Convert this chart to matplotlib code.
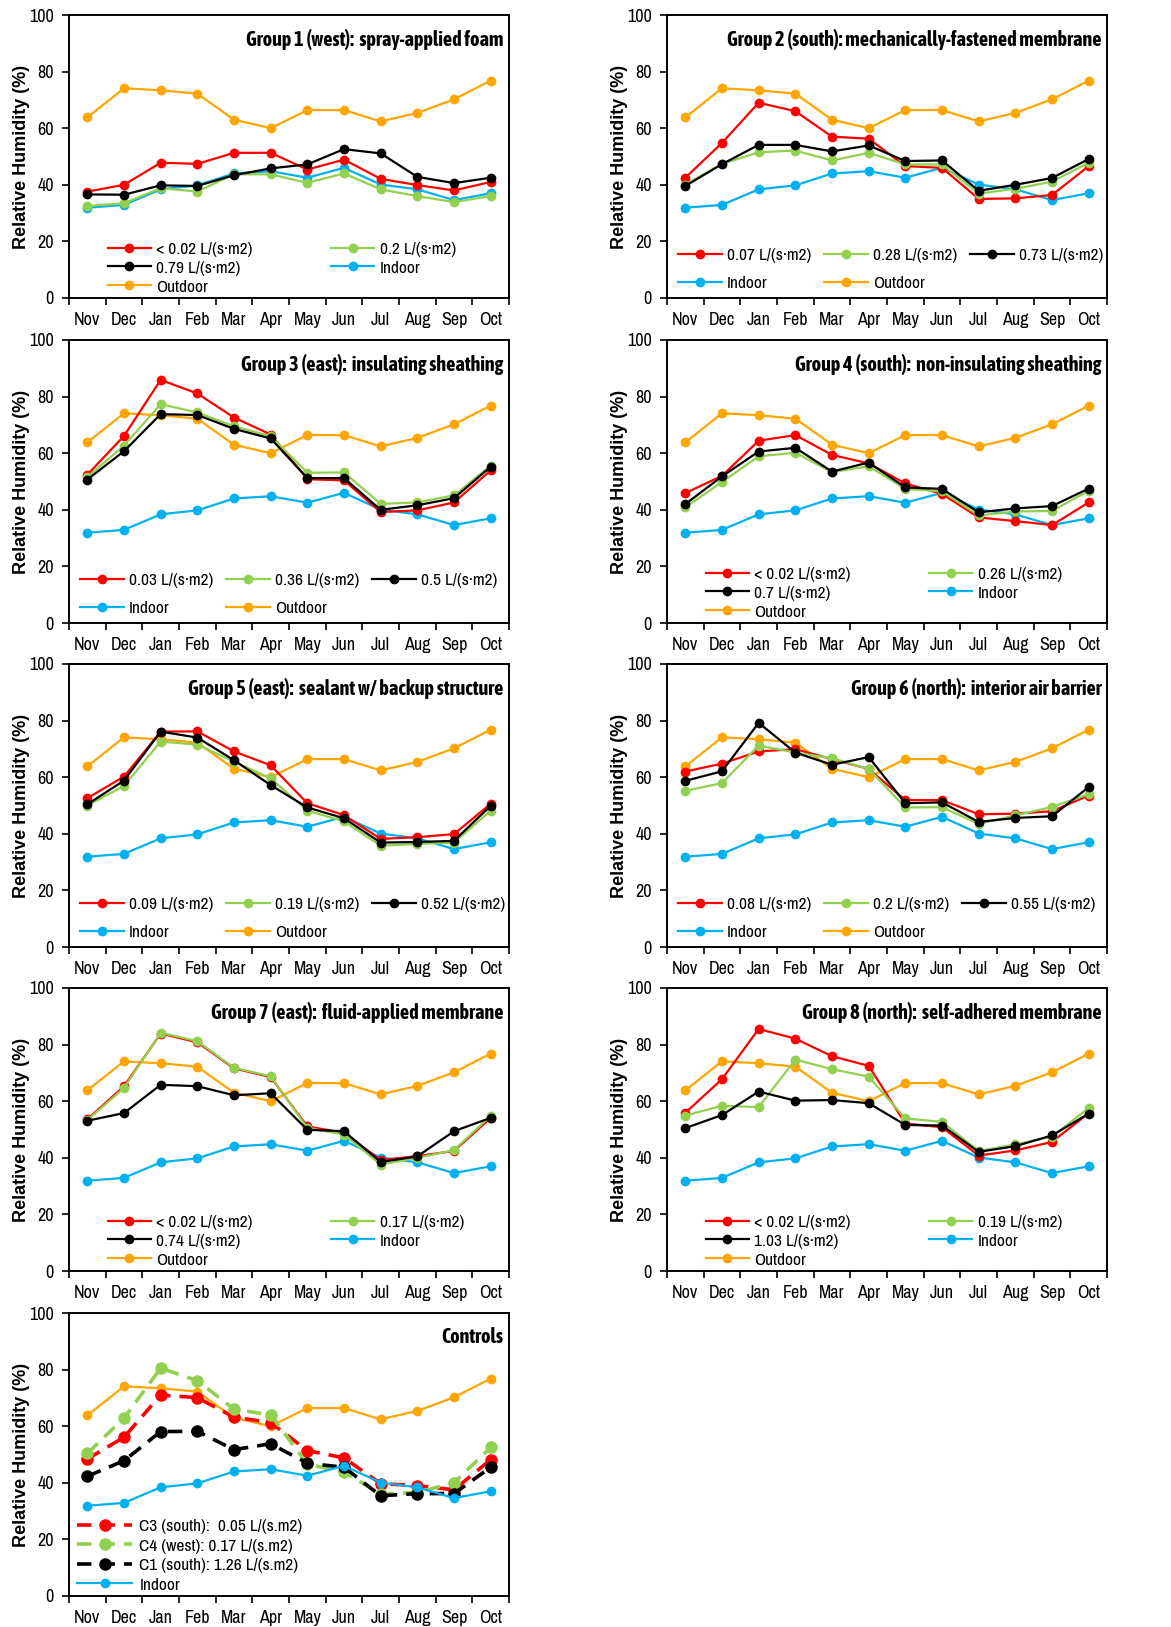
import matplotlib.pyplot as plt
from matplotlib.ticker import FixedLocator, NullFormatter

plt.rcParams['font.family'] = ['Archivo Narrow', 'Liberation Sans', 'DejaVu Sans']
TITLE_FONT = ['Asap Condensed', 'Archivo Narrow', 'DejaVu Sans']

months = ["Nov", "Dec", "Jan", "Feb", "Mar", "Apr", "May", "Jun", "Jul", "Aug", "Sep", "Oct"]

# shared reference series
indoor = [31.9, 32.9, 38.4, 39.8, 44.0, 44.8, 42.5, 46.0, 40.1, 38.4, 34.6, 37.0]
outdoor = [63.8, 74.1, 73.4, 72.2, 63.0, 60.0, 66.4, 66.4, 62.4, 65.4, 70.2, 76.8]

g1_title = "Group 1 (west):  spray-applied foam"
g1_labels = ["< 0.02 L/(s·m2)", "0.2 L/(s·m2)", "0.79 L/(s·m2)"]
g1_red = [37.6, 40.0, 47.8, 47.4, 51.3, 51.3, 45.4, 48.9, 42.1, 39.9, 38.0, 41.0]
g1_green = [32.5, 33.5, 38.8, 37.6, 43.7, 43.7, 40.7, 44.0, 38.4, 36.0, 33.9, 36.0]
g1_black = [36.6, 36.5, 39.8, 39.6, 43.4, 45.8, 47.2, 52.6, 51.1, 42.8, 40.6, 42.5]

g2_title = "Group 2 (south): mechanically-fastened membrane"
g2_labels = ["0.07 L/(s·m2)", "0.28 L/(s·m2)", "0.73 L/(s·m2)"]
g2_red = [42.5, 54.8, 69.0, 66.0, 57.0, 56.3, 46.6, 46.0, 35.0, 35.2, 36.4, 46.6]
g2_green = [40.1, 47.4, 51.5, 52.1, 48.6, 51.3, 47.2, 47.2, 36.9, 38.6, 41.1, 47.8]
g2_black = [39.6, 47.3, 54.1, 54.1, 51.8, 53.9, 48.4, 48.6, 37.9, 40.0, 42.4, 49.1]

g3_title = "Group 3 (east):  insulating sheathing"
g3_labels = ["0.03 L/(s·m2)", "0.36 L/(s·m2)", "0.5 L/(s·m2)"]
g3_red = [52.4, 66.1, 85.9, 81.1, 72.6, 66.6, 50.8, 50.4, 39.2, 39.8, 42.6, 53.9]
g3_green = [51.6, 62.7, 77.3, 74.4, 69.5, 66.0, 53.1, 53.2, 42.1, 42.6, 45.1, 55.6]
g3_black = [50.7, 60.7, 73.8, 73.5, 68.6, 65.2, 51.2, 51.2, 40.0, 41.6, 44.1, 55.2]

g4_title = "Group 4 (south):  non-insulating sheathing"
g4_labels = ["< 0.02 L/(s·m2)", "0.26 L/(s·m2)", "0.7 L/(s·m2)"]
g4_red = [45.9, 52.0, 64.4, 66.4, 59.4, 56.4, 49.3, 45.6, 37.3, 36.0, 34.6, 42.6]
g4_green = [40.9, 49.8, 58.9, 60.2, 53.3, 55.4, 47.4, 46.5, 38.0, 39.4, 39.6, 46.7]
g4_black = [42.0, 51.8, 60.6, 61.9, 53.5, 56.7, 47.9, 47.4, 39.1, 40.5, 41.3, 47.5]

g5_title = "Group 5 (east):  sealant w/ backup structure"
g5_labels = ["0.09 L/(s·m2)", "0.19 L/(s·m2)", "0.52 L/(s·m2)"]
g5_red = [52.6, 60.2, 76.1, 76.2, 69.1, 64.2, 50.8, 46.6, 38.2, 38.8, 39.9, 50.6]
g5_green = [50.0, 56.9, 72.6, 71.5, 65.5, 59.6, 48.2, 44.4, 35.8, 36.4, 36.9, 48.2]
g5_black = [50.4, 58.8, 76.1, 74.0, 66.0, 57.2, 49.3, 45.5, 36.9, 37.1, 37.5, 49.9]

g6_title = "Group 6 (north):  interior air barrier"
g6_labels = ["0.08 L/(s·m2)", "0.2 L/(s·m2)", "0.55 L/(s·m2)"]
g6_red = [62.0, 64.8, 69.1, 69.9, 66.4, 62.9, 51.9, 51.9, 46.9, 47.1, 48.0, 53.5]
g6_green = [55.2, 57.9, 71.2, 68.7, 66.7, 62.9, 49.3, 49.4, 43.5, 46.5, 49.5, 54.0]
g6_black = [58.7, 62.1, 79.2, 68.7, 64.4, 67.1, 50.8, 51.1, 44.2, 45.6, 46.2, 56.5]

g7_title = "Group 7 (east):  fluid-applied membrane"
g7_labels = ["< 0.02 L/(s·m2)", "0.17 L/(s·m2)", "0.74 L/(s·m2)"]
g7_red = [53.6, 65.3, 83.9, 80.8, 71.6, 68.5, 51.1, 48.8, 39.2, 40.6, 42.4, 54.1]
g7_green = [53.3, 64.7, 84.2, 81.2, 71.8, 68.8, 50.6, 48.2, 37.6, 40.0, 42.7, 54.8]
g7_black = [53.1, 55.8, 65.8, 65.3, 62.1, 62.8, 49.9, 49.4, 38.5, 40.5, 49.4, 54.1]

g8_title = "Group 8 (north):  self-adhered membrane"
g8_labels = ["< 0.02 L/(s·m2)", "0.19 L/(s·m2)", "1.03 L/(s·m2)"]
g8_red = [55.9, 67.8, 85.5, 82.1, 75.9, 72.5, 52.1, 50.8, 40.8, 42.6, 45.6, 55.8]
g8_green = [54.9, 58.4, 57.9, 74.7, 71.3, 68.7, 53.9, 52.7, 42.4, 44.7, 47.5, 57.6]
g8_black = [50.5, 55.1, 63.4, 60.2, 60.4, 59.3, 51.6, 51.4, 42.1, 44.1, 47.9, 55.6]

ctrl_title = "Controls"
ctrl_labels = ["C3 (south):  0.05 L/(s.m2)", "C4 (west): 0.17 L/(s.m2)", "C1 (south): 1.26 L/(s.m2)"]
ctrl_c3 = [48.4, 56.1, 71.0, 70.1, 63.2, 61.3, 51.4, 48.8, 39.7, 39.0, 37.5, 48.2]
ctrl_c4 = [50.4, 62.9, 80.5, 76.1, 66.0, 64.0, 46.6, 43.8, 36.0, 36.6, 40.0, 52.5]
ctrl_c1 = [42.3, 47.8, 58.1, 58.2, 51.7, 53.8, 46.9, 45.5, 35.4, 36.2, 36.2, 45.5]

RED = "#FF0000"
GREEN = "#92D050"
BLACK = "#000000"
BLUE = "#00B0F0"
ORANGE = "#FFA500"

W, H = 1171, 1627
x = [i + 0.5 for i in range(len(months))]


def make_axes(fig, left_px, top_px):
    # pixel box -> figure fraction
    w_px, h_px = 440, 283
    ax = fig.add_axes([left_px / W, 1 - (top_px + h_px) / H, w_px / W, h_px / H])
    ax.set_xlim(0, 12)
    ax.set_ylim(0, 100)
    ax.set_yticks([0, 20, 40, 60, 80, 100])
    ax.xaxis.set_major_locator(FixedLocator(range(13)))
    ax.xaxis.set_major_formatter(NullFormatter())
    ax.xaxis.set_minor_locator(FixedLocator(x))
    ax.set_xticklabels(months, minor=True)
    ax.tick_params(axis="x", which="major", direction="out", length=5, width=1.2)
    ax.tick_params(axis="x", which="minor", length=0, pad=10, labelsize=13)
    ax.tick_params(axis="y", direction="out", length=5, width=1.2, labelsize=13, pad=6)
    for s in ax.spines.values():
        s.set_linewidth(1.4)
    ax.set_ylabel("Relative Humidity (%)", fontsize=13, fontweight="bold",
                  family=["Liberation Sans", "DejaVu Sans"])
    ax.yaxis.set_label_coords(-0.088, 0.5)
    return ax


def draw_group(ax, title, labels, red, green, black, ncol, legend_x):
    kw = dict(lw=1.6, marker="o", ms=6)
    h_red, = ax.plot(x, red, color=RED, label=labels[0], **kw)
    h_green, = ax.plot(x, green, color=GREEN, label=labels[1], **kw)
    h_black, = ax.plot(x, black, color=BLACK, label=labels[2], **kw)
    h_in, = ax.plot(x, indoor, color=BLUE, label="Indoor", **kw)
    h_out, = ax.plot(x, outdoor, color=ORANGE, label="Outdoor", **kw)
    # keep indoor/outdoor under the group lines
    h_in.set_zorder(1.9)
    h_out.set_zorder(1.8)
    if ncol == 2:
        handles = [h_red, h_black, h_out, h_green, h_in]
        spacing, rows, bpad = 4.5, 0.22, 0.2
    else:
        handles = [h_red, h_in, h_green, h_out, h_black]
        spacing, rows, bpad = 0.75, 0.75, 0.4
    ax.legend(handles=handles, ncol=ncol, loc="lower left", bbox_to_anchor=(legend_x, 0.0),
              frameon=False, fontsize=12.5, handlelength=2.5, handletextpad=0.3,
              labelspacing=rows, columnspacing=spacing, borderaxespad=0.0, borderpad=bpad)
    ax.text(0.988, 0.915, title, transform=ax.transAxes, ha="right", va="center",
            fontsize=14.5, fontweight="bold", family=TITLE_FONT)


fig = plt.figure(figsize=(W / 100, H / 100), dpi=100)

lefts = [69, 667]
tops = [15, 340, 664, 988, 1313]

groups = [
    (g1_title, g1_labels, g1_red, g1_green, g1_black, 2, 0.08),
    (g2_title, g2_labels, g2_red, g2_green, g2_black, 3, 0.01),
    (g3_title, g3_labels, g3_red, g3_green, g3_black, 3, 0.01),
    (g4_title, g4_labels, g4_red, g4_green, g4_black, 2, 0.08),
    (g5_title, g5_labels, g5_red, g5_green, g5_black, 3, 0.01),
    (g6_title, g6_labels, g6_red, g6_green, g6_black, 3, 0.01),
    (g7_title, g7_labels, g7_red, g7_green, g7_black, 2, 0.08),
    (g8_title, g8_labels, g8_red, g8_green, g8_black, 2, 0.08),
]

for i, g in enumerate(groups):
    ax = make_axes(fig, lefts[i % 2], tops[i // 2])
    draw_group(ax, *g)

# controls panel
ax = make_axes(fig, lefts[0], tops[4])
dkw = dict(lw=2.6, ls=(0, (4, 2.5)), marker="o", ms=8)
ax.plot(x, outdoor, color=ORANGE, lw=1.6, marker="o", ms=6, zorder=1.8)
c3, = ax.plot(x, ctrl_c3, color=RED, label=ctrl_labels[0], **dkw)
c4, = ax.plot(x, ctrl_c4, color=GREEN, label=ctrl_labels[1], **dkw)
c1, = ax.plot(x, ctrl_c1, color=BLACK, label=ctrl_labels[2], **dkw)
cin, = ax.plot(x, indoor, color=BLUE, lw=1.6, marker="o", ms=6, label="Indoor")
ax.legend(handles=[c3, c4, c1, cin], loc="lower left", bbox_to_anchor=(0.01, 0.0),
          frameon=False, fontsize=12.5, handlelength=3.2, handletextpad=0.4,
          labelspacing=0.25, borderaxespad=0.0, borderpad=0.2)
ax.text(0.988, 0.915, ctrl_title, transform=ax.transAxes, ha="right", va="center",
        fontsize=14.5, fontweight="bold", family=TITLE_FONT)

fig.savefig("out.png", dpi=100)
